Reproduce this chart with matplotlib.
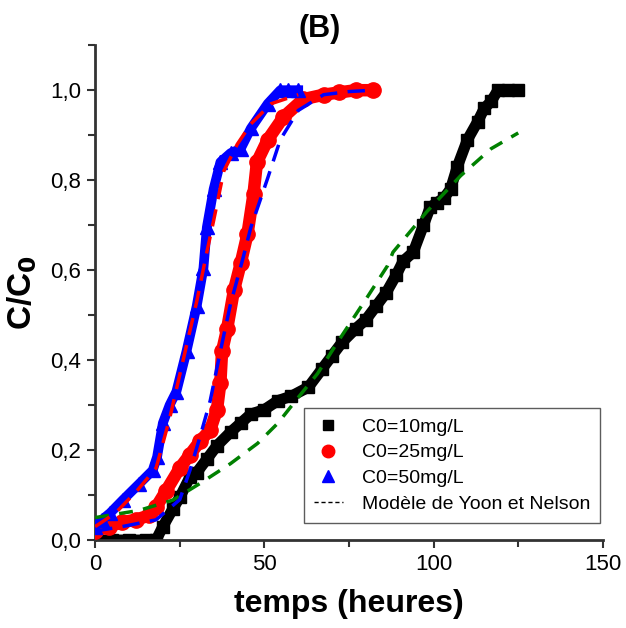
import matplotlib.pyplot as plt
from matplotlib.lines import Line2D
from matplotlib.ticker import MultipleLocator, FuncFormatter

# C0 = 10 mg/L (black squares)
t_10 = [0, 5, 10, 15, 18, 20, 23, 25, 28, 30, 33, 36, 40, 43, 46, 50, 54, 58, 63,
        67, 70, 73, 77, 80, 83, 86, 89, 91, 94, 97, 99, 101, 103, 105, 107, 110,
        113, 115, 117, 119, 122, 125]
c_10 = [0.0, 0.0, 0.0, 0.0, 0.0, 0.03, 0.07, 0.095, 0.14, 0.15, 0.18, 0.21, 0.24,
        0.26, 0.28, 0.29, 0.31, 0.32, 0.34, 0.38, 0.41, 0.44, 0.47, 0.49, 0.52,
        0.55, 0.59, 0.62, 0.64, 0.70, 0.74, 0.75, 0.76, 0.78, 0.83, 0.89, 0.93,
        0.96, 0.975, 1.0, 1.0, 1.0]

# C0 = 25 mg/L (red circles)
t_25 = [0, 4, 8, 12, 16, 18, 21, 25, 28, 31, 34, 36, 37, 37.5, 39, 41, 43, 45,
        46.8, 47.8, 51, 55.6, 61.5, 67.5, 72, 77, 82]
c_25 = [0.02, 0.03, 0.04, 0.045, 0.055, 0.073, 0.11, 0.16, 0.19, 0.22, 0.245,
        0.29, 0.35, 0.42, 0.47, 0.555, 0.615, 0.68, 0.77, 0.84, 0.89, 0.94, 0.98,
        0.99, 0.995, 1.0, 1.0]

# C0 = 50 mg/L (blue triangles)
t_50 = [0, 2, 4.4, 8.3, 13, 17, 18.3, 20, 22, 24, 27, 30, 32, 33, 35, 37, 40, 43,
        46, 51, 54.7, 57, 60]
c_50 = [0.03, 0.045, 0.06, 0.09, 0.125, 0.155, 0.185, 0.26, 0.30, 0.33, 0.42,
        0.52, 0.605, 0.695, 0.78, 0.84, 0.86, 0.87, 0.915, 0.97, 1.0, 1.0, 1.0]

# Yoon-Nelson model curves
tm_10 = [0, 13, 23, 31, 40, 48, 54, 60, 65.7, 72.5, 80.4, 86.4, 88, 98, 108, 117, 125]
cm_10 = [0.05, 0.066, 0.089, 0.126, 0.17, 0.215, 0.26, 0.317, 0.37, 0.45, 0.54,
         0.61, 0.64, 0.73, 0.81, 0.87, 0.905]

tm_50 = [0, 6, 12.4, 18, 22, 26, 30, 33, 35, 38, 42, 46, 52, 60]
cm_50 = [0.03, 0.06, 0.11, 0.16, 0.27, 0.40, 0.53, 0.64, 0.71, 0.82, 0.88, 0.925,
         0.97, 0.99]

tm_25 = [0, 8, 18, 25, 28, 31, 34, 37, 40, 43.8, 46, 51, 54.7, 60, 67.5, 75, 82]
cm_25 = [0.02, 0.03, 0.045, 0.09, 0.155, 0.23, 0.31, 0.42, 0.525, 0.63, 0.695,
         0.805, 0.89, 0.955, 0.99, 0.997, 1.0]

plt.rcParams['font.family'] = ['Liberation Sans', 'DejaVu Sans']

fig = plt.figure(figsize=(6.26, 6.28), dpi=100)
ax = fig.add_axes([0.152, 0.140, 0.811, 0.788])

# data bands: thick line + markers
ax.plot(t_10, c_10, color='black', lw=8, solid_joinstyle='miter', zorder=2)
ax.plot(t_10, c_10, 's', color='black', ms=8, zorder=2)
ax.plot(t_25, c_25, color='red', lw=9, solid_capstyle='round', zorder=3)
ax.plot(t_25, c_25, 'o', color='red', ms=11, zorder=3)
ax.plot(t_50, c_50, color='blue', lw=7, zorder=3)
ax.plot(t_50, c_50, '^', color='blue', ms=10, zorder=3)

# model curves
ax.plot(tm_10, cm_10, '--', color='green', lw=2.5, dashes=(4, 3), zorder=4)
ax.plot(tm_50, cm_50, '--', color='red', lw=2.5, dashes=(5, 3), zorder=4)
ax.plot(tm_25, cm_25, '--', color='blue', lw=2.5, dashes=(5, 3), zorder=4)

ax.set_xlim(0, 150)
ax.set_ylim(0, 1.1)
ax.spines['top'].set_visible(False)
ax.spines['right'].set_visible(False)
for s in ('left', 'bottom'):
    ax.spines[s].set_linewidth(2)
    ax.spines[s].set_color('#333333')
ax.xaxis.set_major_locator(MultipleLocator(50))
ax.xaxis.set_minor_locator(MultipleLocator(25))
ax.yaxis.set_major_locator(MultipleLocator(0.2))
ax.yaxis.set_minor_locator(MultipleLocator(0.1))
ax.yaxis.set_major_formatter(FuncFormatter(lambda v, p: f"{v:.1f}".replace('.', ',')))
ax.tick_params(which='both', direction='out', width=1.5, labelsize=16, color='#333333')
ax.tick_params(which='major', length=6, pad=4)
ax.tick_params(which='minor', length=5)

ax.set_xlabel('temps (heures)', fontsize=23, fontweight='bold', labelpad=10)
ax.set_ylabel('C/C$_\\mathbf{0}$', fontsize=24, fontweight='bold', labelpad=8)
fig.text(0.511, 1 - 29 / 628, '(B)', fontsize=22, fontweight='bold',
         ha='center', va='center')

handles = [
    Line2D([], [], ls='none', marker='s', color='black', ms=7),
    Line2D([], [], ls='none', marker='o', color='red', ms=9),
    Line2D([], [], ls='none', marker='^', color='blue', ms=9),
    Line2D([], [], ls='--', color='black', lw=1, dashes=(3, 2)),
]
labels = ['C0=10mg/L', 'C0=25mg/L', 'C0=50mg/L', 'Modèle de Yoon et Nelson']
leg = ax.legend(handles, labels, loc='lower right', bbox_to_anchor=(0.995, 0.035),
                fontsize=14, frameon=True, fancybox=False, edgecolor='#333333',
                handlelength=1.5, handletextpad=1.0, borderpad=0.5, labelspacing=0.42,
                borderaxespad=0.0)
leg.get_frame().set_linewidth(1.0)

fig.savefig('out.png', dpi=100)
